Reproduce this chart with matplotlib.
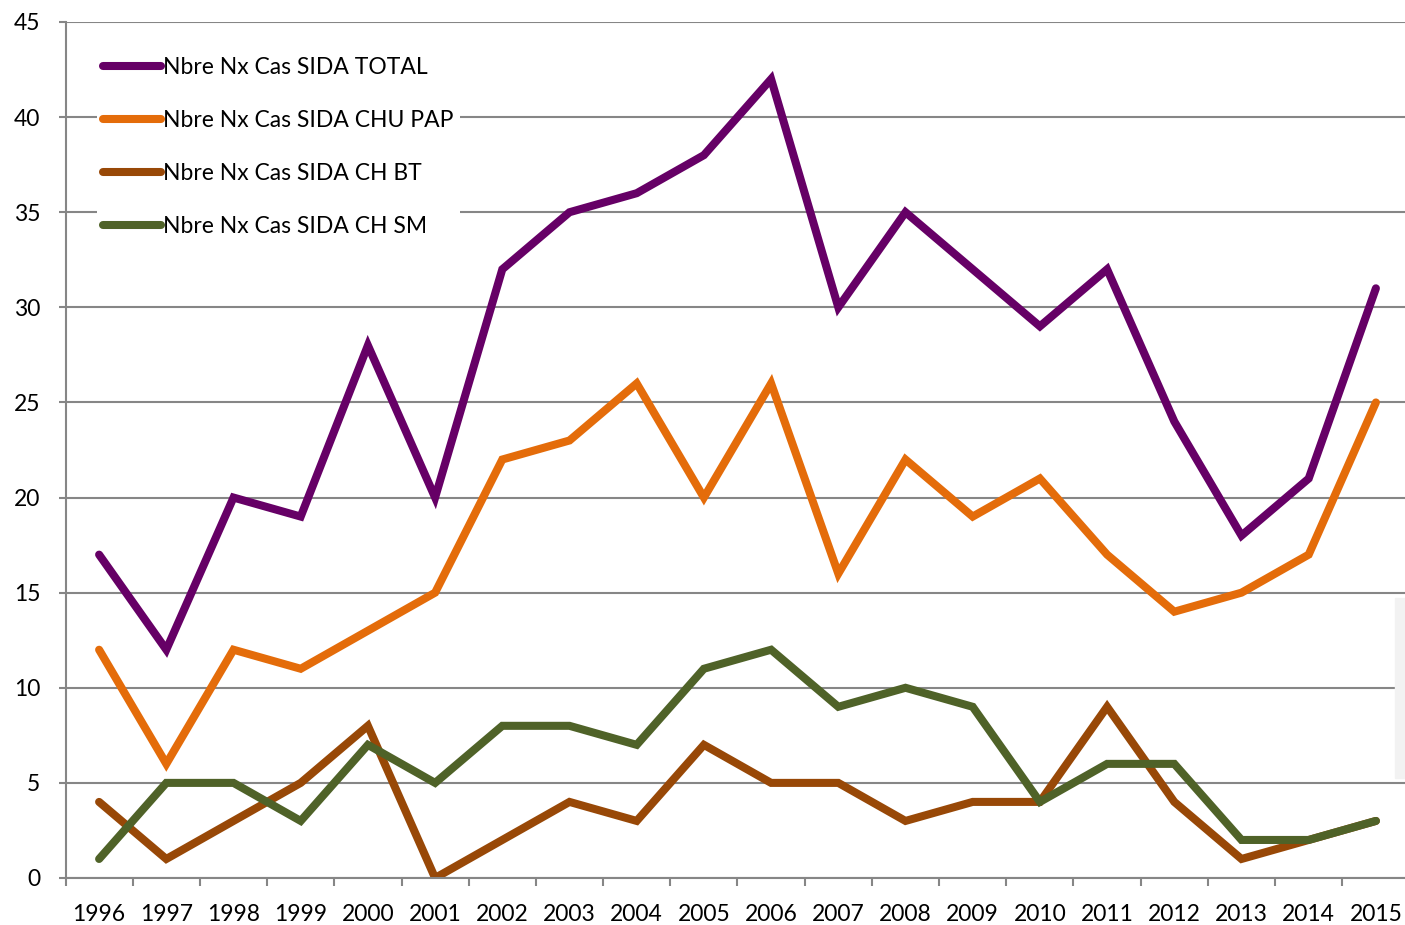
import numpy as np
import matplotlib
matplotlib.use("Agg")
import matplotlib.pyplot as plt
from matplotlib.patches import Rectangle

years = [str(y) for y in range(1996, 2016)]
total = [17, 12, 20, 19, 28, 20, 32, 35, 36, 38, 42, 30, 35, 32, 29, 32, 24, 18, 21, 31]
chu_pap = [12, 6, 12, 11, 13, 15, 22, 23, 26, 20, 26, 16, 22, 19, 21, 17, 14, 15, 17, 25]
ch_bt = [4, 1, 3, 5, 8, 0, 2, 4, 3, 7, 5, 5, 3, 4, 4, 9, 4, 1, 2, 3]
ch_sm = [1, 5, 5, 3, 7, 5, 8, 8, 7, 11, 12, 9, 10, 9, 4, 6, 6, 2, 2, 3]

series = [
    ("Nbre Nx Cas SIDA TOTAL", total, "#660066"),
    ("Nbre Nx Cas SIDA CHU PAP", chu_pap, "#E46C0A"),
    ("Nbre Nx Cas SIDA CH BT", ch_bt, "#984807"),
    ("Nbre Nx Cas SIDA CH SM", ch_sm, "#4F6228"),
]

plt.rcParams['font.family'] = ['Lato', 'DejaVu Sans']
grey = "#868686"
fs = 16.5

fig = plt.figure(figsize=(14.05, 9.25), dpi=100)
ax = fig.add_axes([65.5 / 1405, 47 / 925, 1344 / 1405, 856 / 925])

x = np.arange(len(years))
for name, vals, col in series:
    ax.plot(x, vals, color=col, lw=5.8, solid_capstyle='round',
            solid_joinstyle='miter', label=name)

ax.set_xlim(-0.5, len(years) - 0.5)
ax.set_ylim(0, 45)
ax.set_yticks(range(0, 46, 5))
ax.set_xticks(x)
ax.set_xticklabels(years)
ax.set_xticks(np.arange(-0.5, len(years), 1), minor=True)

ax.grid(axis='y', color=grey, lw=1.5)
ax.set_axisbelow(True)
for s in ['top', 'right']:
    ax.spines[s].set_visible(False)
for s in ['left', 'bottom']:
    ax.spines[s].set_color(grey)
    ax.spines[s].set_linewidth(1.5)

ax.tick_params(axis='y', length=5, width=1.5, color=grey, pad=13, labelsize=fs)
ax.tick_params(axis='x', which='major', length=0, pad=18.5, labelsize=fs)
ax.tick_params(axis='x', which='minor', length=6, width=1.5, color=grey)

leg = ax.legend(loc='upper left', bbox_to_anchor=(0.018, 0.975), fontsize=fs,
                frameon=True, facecolor='white', edgecolor='none', framealpha=1,
                handlelength=2.5, handletextpad=0.1, labelspacing=1.4,
                borderpad=0.3, borderaxespad=0.3, fancybox=False)
for h in leg.get_lines():
    h.set_solid_capstyle('round')

fig.patches.append(Rectangle((1395 / 1405, (925 - 778) / 925), 12 / 1405, 180 / 925,
                             transform=fig.transFigure, color="#F2F2F2", zorder=5))

fig.savefig("out.png", dpi=100)
